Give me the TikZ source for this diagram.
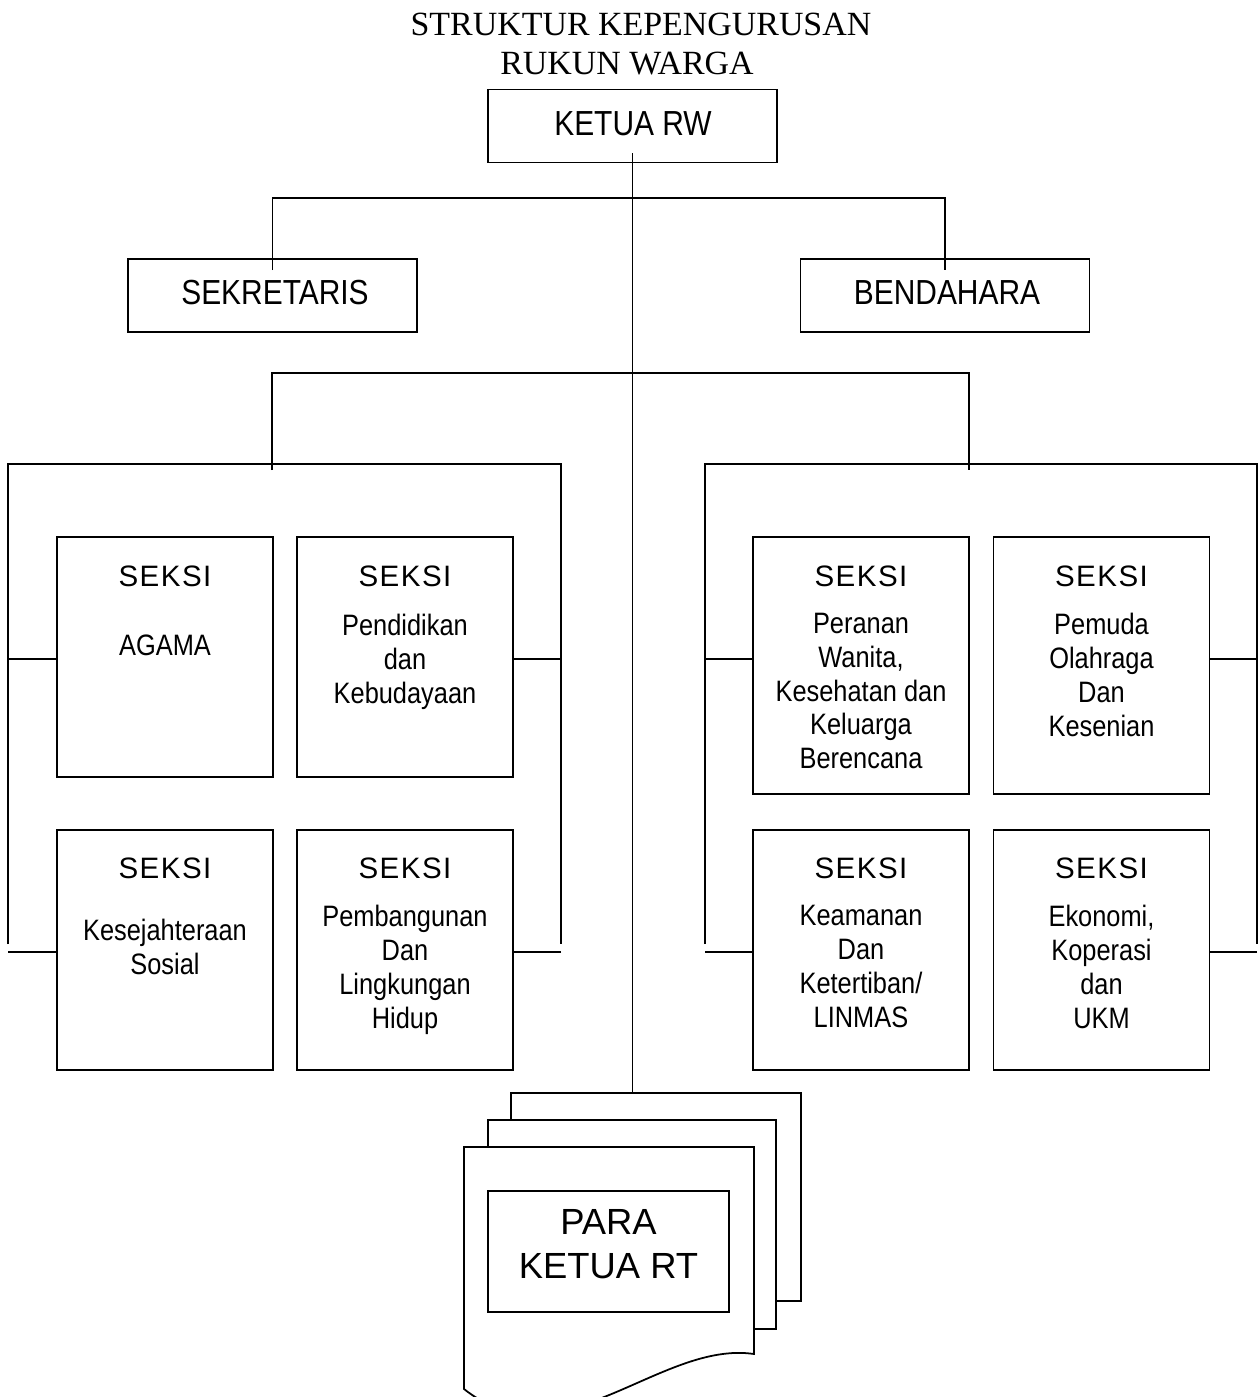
\documentclass[tikz,border=0pt]{standalone}
\usepackage{fontspec}
\setmainfont{Liberation Serif}
\newfontfamily\arial{Liberation Sans}
\newfontfamily\arialn[FakeStretch=0.86]{Liberation Sans}
\newfontfamily\arialsp[LetterSpace=5]{Liberation Sans}

\begin{document}
\begin{tikzpicture}[x=0.2mm,y=-0.2mm,line width=1pt]

% one pixel of the sheet
\def\px{0.2mm}
% node style definition
\tikzstyle{box} = [
	draw, rectangle, inner sep=0pt,
	minimum width=216*\px, minimum height=240*\px ];
\tikzstyle{head} = [box, minimum width=289*\px, minimum height=73*\px];
\tikzstyle{title} = [inner sep=0pt, anchor=base, font=\fontsize{19.3}{22}\selectfont];
\tikzstyle{big} = [inner sep=0pt, anchor=base, font=\arialn\fontsize{19.8}{22}\selectfont];
\tikzstyle{seksi} = [inner sep=0pt, anchor=base, font=\arialsp\fontsize{16.8}{19.3}\selectfont];
\tikzstyle{body} = [inner sep=0pt, anchor=north, align=center,
	font=\arialn\fontsize{16.8}{19.3}\selectfont];

\useasboundingbox (0,0) rectangle (1259,1397);

\node[title] (t1) at (641,35) {STRUKTUR KEPENGURUSAN};
\node[title] (t2) at (627,74) {RUKUN WARGA};

% top of the tree
\node[head] (ketua) at (632.5,126) {};
\node[big] (ketuatxt) at (633,135) {KETUA RW};

\node[head] (sekretaris) at (272.5,295.5) {};
\node[big] (sekretaristxt) at (275,304) {SEKRETARIS};

\node[head] (bendahara) at (945,295.5) {};
\node[big] (bendaharatxt) at (947,304) {BENDAHARA};

% left group of sections
\node[box] (agama) at (165,657) {};
\node[box] (pendidikan) at (405,657) {};
\node[box] (kesos) at (165,950) {};
\node[box] (pembangunan) at (405,950) {};

\node[seksi] (s1) at (165,586) {SEKSI};
\node[seksi] (s2) at (405,586) {SEKSI};
\node[seksi] (s3) at (165,878.6) {SEKSI};
\node[seksi] (s4) at (405,878.6) {SEKSI};

\node[body] (agamatxt) at (165,634) {AGAMA};
\node[body] (pendidikantxt) at (405,613) {Pendidikan\\dan\\Kebudayaan};
\node[body] (kesostxt) at (165,918) {Kesejahteraan\\Sosial};
\node[body] (pembangunantxt) at (405,904.5) {Pembangunan\\Dan\\Lingkungan\\Hidup};

% right group of sections
\node[box,minimum height=257*\px] (peranan) at (861,665.5) {};
\node[box,minimum height=257*\px] (pemuda) at (1101.5,665.5) {};
\node[box] (keamanan) at (861,950) {};
\node[box] (ekonomi) at (1101.5,950) {};

\node[seksi] (s5) at (861,586) {SEKSI};
\node[seksi] (s6) at (1101.5,586) {SEKSI};
\node[seksi] (s7) at (861,878.6) {SEKSI};
\node[seksi] (s8) at (1101.5,878.6) {SEKSI};

\node[body] (peranantxt) at (861,612) {Peranan\\Wanita,\\Kesehatan dan\\Keluarga\\Berencana};
\node[body] (pemudatxt) at (1101.5,612) {Pemuda\\Olahraga\\Dan\\Kesenian};
\node[body] (keamanantxt) at (861,904.5) {Keamanan\\Dan\\Ketertiban/\\LINMAS};
\node[body] (ekonomitxt) at (1101.5,904.5) {Ekonomi,\\Koperasi\\dan\\UKM};

% stacked sheets of the RT heads
\draw[fill=white] (511,1093) rectangle (801,1301);
\draw[fill=white] (488,1120) rectangle (776,1329);
\draw[fill=white] (464,1147) -- (754,1147) -- (754,1354)
	.. controls (660,1340) and (560,1465) .. (464,1389) -- cycle;
\coordinate (pgtop) at (632.5,1093);

\node[box, minimum width=241*\px, minimum height=121*\px] (rt) at (608.5,1251.5) {};
\node[inner sep=0pt, anchor=north, align=center,
	font=\arial\fontsize{20.7}{24.9}\selectfont] (rttxt) at (608.5,1209) {PARA\\KETUA RT};

% branches
\coordinate (b1) at (632.5,198);
\coordinate (b2) at (632.5,373);
\coordinate (lg) at (272,464);
\coordinate (rg) at (969,464);

\draw ([yshift=2mm]ketua.south) -- (pgtop);
\draw ([yshift=-2.4mm]sekretaris.north) |- (b1) -| ([yshift=-2.4mm]bendahara.north);
\draw ([yshift=-1.2mm]lg) |- (b2) -| ([yshift=-1.2mm]rg);

% brackets round the groups
\draw (8,944) -- (8,464) -- (561,464) -- (561,944);
\draw (705,944) -- (705,464) -- (1257,464) -- (1257,944);

\coordinate (l1) at (8,659);
\coordinate (l2) at (8,952);
\coordinate (l3) at (561,659);
\coordinate (l4) at (561,952);
\coordinate (r1) at (705,659);
\coordinate (r2) at (705,952);
\coordinate (r3) at (1257,659);
\coordinate (r4) at (1257,952);

\draw (l1) -- (l1 -| agama.west);
\draw (l2) -- (l2 -| kesos.west);
\draw (l3) -- (l3 -| pendidikan.east);
\draw (l4) -- (l4 -| pembangunan.east);
\draw (r1) -- (r1 -| peranan.west);
\draw (r2) -- (r2 -| keamanan.west);
\draw (r3) -- (r3 -| pemuda.east);
\draw (r4) -- (r4 -| ekonomi.east);

\end{tikzpicture}
\end{document}
